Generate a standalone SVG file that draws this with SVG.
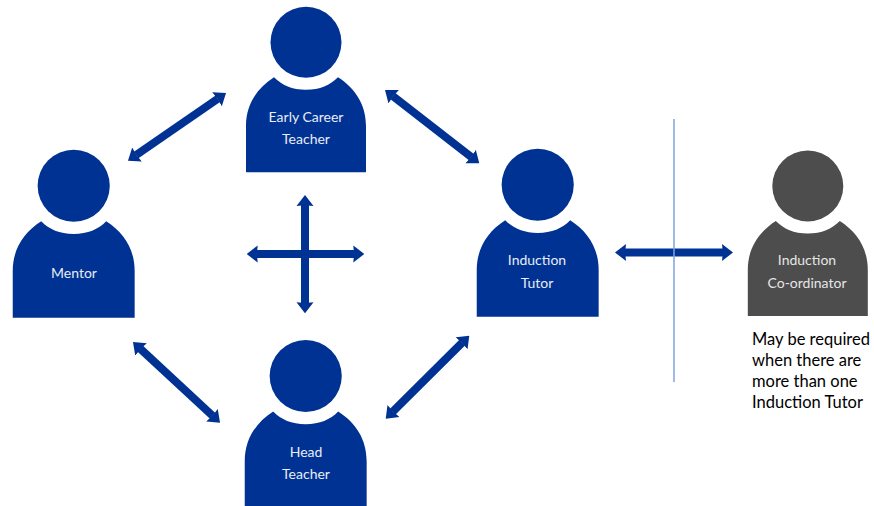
<svg xmlns="http://www.w3.org/2000/svg" width="874" height="506" viewBox="0 0 874 506">
  <style>
    .lbl { font-family: "Lato", "Liberation Sans", sans-serif; font-size: 14px; fill: #e8edf6; text-anchor: middle; }
    .note { font-family: "Lato", "Liberation Sans", sans-serif; font-size: 16.500px; fill: #000; }
    .arrow { stroke: #003293; stroke-width: 8; fill: none; marker-start: url(#head); marker-end: url(#head); }
    .blue { fill: #003293; }
    .grey { fill: #4d4d4d; }
  </style>
  <defs>
    <marker id="head" viewBox="0 0 11 18" refX="1" refY="9" markerWidth="11" markerHeight="18" markerUnits="userSpaceOnUse" orient="auto-start-reverse">
      <path d="M0 0.500 L11 9 L0 17.500 L0.800 9 Z" fill="#003293"/>
    </marker>
    <g id="person">
      <circle cx="0" cy="0" r="35.500"/>
      <path d="M-60 130 V84 C-60 62 -49 46 -32 35 C-24 43 -14 47.500 0 47.500 C14 47.500 24 43 32 35 C49 46 60 62 60 84 V130 Z"/>
    </g>
  </defs>
  <rect width="874" height="506" fill="#fff"/>
  <g id="connectors">
    <line class="arrow" x1="136.200" y1="155" x2="217.800" y2="98.700"/>
    <line class="arrow" x1="392.900" y1="96.100" x2="471.400" y2="157.200"/>
    <line class="arrow" x1="140.300" y1="348.800" x2="212.700" y2="415.900"/>
    <line class="arrow" x1="462.200" y1="342.700" x2="392.800" y2="411.700"/>
    <line class="arrow" x1="256.700" y1="254" x2="354.300" y2="254"/>
    <line class="arrow" x1="305" y1="205" x2="305" y2="303.300"/>
    <line class="arrow" x1="625" y1="252.500" x2="723" y2="252.500"/>
    <line id="divider" x1="674" y1="119" x2="674" y2="382" stroke="#7ea3dc" stroke-width="1.500"/>
  </g>
  <g id="early-career-teacher">
    <use href="#person" class="blue" transform="translate(306 42.300)"/>
    <text class="lbl" x="306" y="122">Early Career</text>
    <text class="lbl" x="306" y="144">Teacher</text>
  </g>
  <g id="mentor">
    <use href="#person" class="blue" transform="translate(73.700 185.700) scale(1.016)"/>
    <text class="lbl" x="74" y="278">Mentor</text>
  </g>
  <g id="induction-tutor">
    <use href="#person" class="blue" transform="translate(537.700 184.700) scale(1.016)"/>
    <text class="lbl" x="537" y="265">Induction</text>
    <text class="lbl" x="537" y="288">Tutor</text>
  </g>
  <g id="head-teacher">
    <use href="#person" class="blue" transform="translate(305.700 376) scale(1.016)"/>
    <text class="lbl" x="306" y="457">Head</text>
    <text class="lbl" x="306" y="479">Teacher</text>
  </g>
  <g id="induction-coordinator">
    <use href="#person" class="grey" transform="translate(807.800 186)"/>
    <text class="lbl" x="807" y="265" style="fill:#e6e6e6">Induction</text>
    <text class="lbl" x="807" y="288" style="fill:#e6e6e6">Co-ordinator</text>
  </g>
  <g id="note">
    <text class="note" x="752" y="345">May be required</text>
    <text class="note" x="752" y="366">when there are</text>
    <text class="note" x="752" y="387">more than one</text>
    <text class="note" x="752" y="408">Induction Tutor</text>
  </g>
</svg>
